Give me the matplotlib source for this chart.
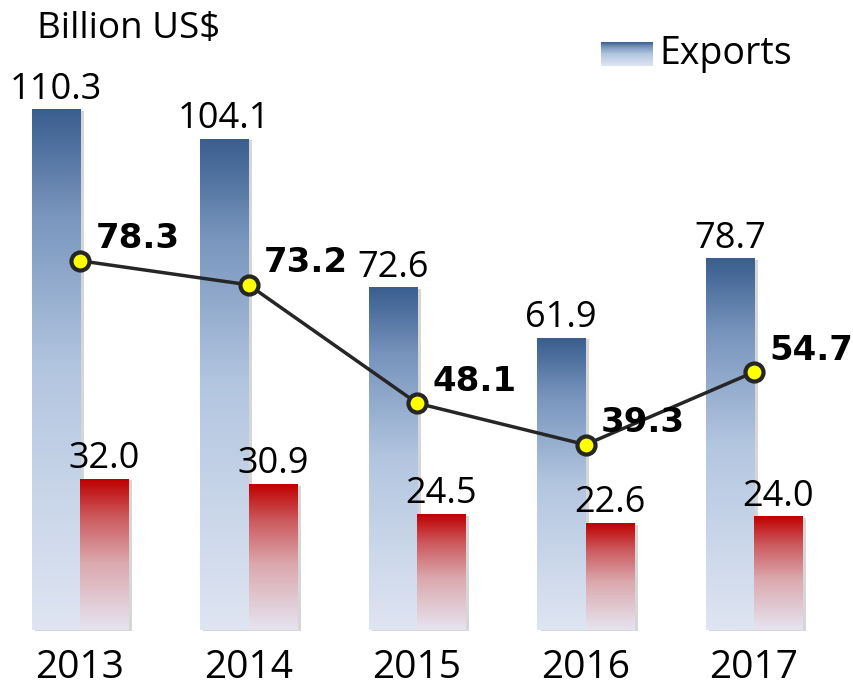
import numpy as np
import matplotlib.pyplot as plt
from matplotlib.colors import LinearSegmentedColormap
import matplotlib.patheffects as pe

years = ["2013", "2014", "2015", "2016", "2017"]
exports = [110.3, 104.1, 72.6, 61.9, 78.7]
imports = [32.0, 30.9, 24.5, 22.6, 24.0]
balance = [78.3, 73.2, 48.1, 39.3, 54.7]

plt.rcParams['font.family'] = ['Open Sans', 'DejaVu Sans']

blue_cm = LinearSegmentedColormap.from_list(
    "blue", [(0.0, "#dfe5f2"), (0.5, "#b3c6e0"), (0.8, "#7895bd"), (1.0, "#3a5e8f")])
red_cm = LinearSegmentedColormap.from_list(
    "red", [(0.0, "#e6e4f0"), (0.45, "#dba8ad"), (0.75, "#cc5a5e"), (1.0, "#c00000")])
grad = np.linspace(0, 1, 256).reshape(-1, 1)

fig = plt.figure(figsize=(8.54, 6.87), dpi=100)
ax = fig.add_axes([0, 0, 1, 1])
x = np.arange(len(years))
w = 0.288

shadow = [pe.SimplePatchShadow(offset=(2.5, -1), shadow_rgbFace="#999999", alpha=0.4), pe.Normal()]
b1 = ax.bar(x - w / 2, exports, w, color="white", zorder=1, path_effects=shadow)
b2 = ax.bar(x + w / 2, imports, w, color="white", zorder=1, path_effects=shadow)

for bars, cm in ((b1, blue_cm), (b2, red_cm)):
    for b in bars:
        x0, y0 = b.get_x(), b.get_y()
        ax.imshow(grad, cmap=cm, origin="lower", aspect="auto", zorder=2,
                  extent=[x0, x0 + b.get_width(), y0, y0 + b.get_height()])

for i in range(len(years)):
    ax.annotate(f"{exports[i]:.1f}", (x[i] - w / 2, exports[i]), xytext=(0, 8),
                textcoords="offset points", ha="center", va="baseline", fontsize=26)
    ax.annotate(f"{imports[i]:.1f}", (x[i] + w / 2, imports[i]), xytext=(0, 8),
                textcoords="offset points", ha="center", va="baseline", fontsize=26)
    ax.annotate(f"{balance[i]:.1f}", (x[i], balance[i]), xytext=(11, 9),
                textcoords="offset points", ha="left", va="baseline", fontsize=24.5,
                fontweight="bold", family="DejaVu Sans", zorder=5)
    ax.text(x[i], -8.1, years[i], ha="center", va="center", fontsize=28)

ax.plot(x, balance, color="#262626", lw=2.5, zorder=3,
        marker="o", markersize=13, markerfacecolor="#ffff00",
        markeredgecolor="#262626", markeredgewidth=3)

ax.set_xlim(-0.475, 4.593)
ax.set_ylim(-12.09, 133.6)
ax.axis("off")

ax.text(0.043, 0.958, "Billion US$", transform=ax.transAxes, fontsize=26.5,
        ha="left", va="center")

lax = fig.add_axes([601 / 854, 1 - 66 / 687, 52 / 854, 24 / 687])
lax.imshow(grad, cmap=blue_cm, origin="lower", aspect="auto")
lax.axis("off")
ax.text(0.772, 0.922, "Exports", transform=ax.transAxes, fontsize=27,
        ha="left", va="center")

fig.savefig("out.png", dpi=100)
